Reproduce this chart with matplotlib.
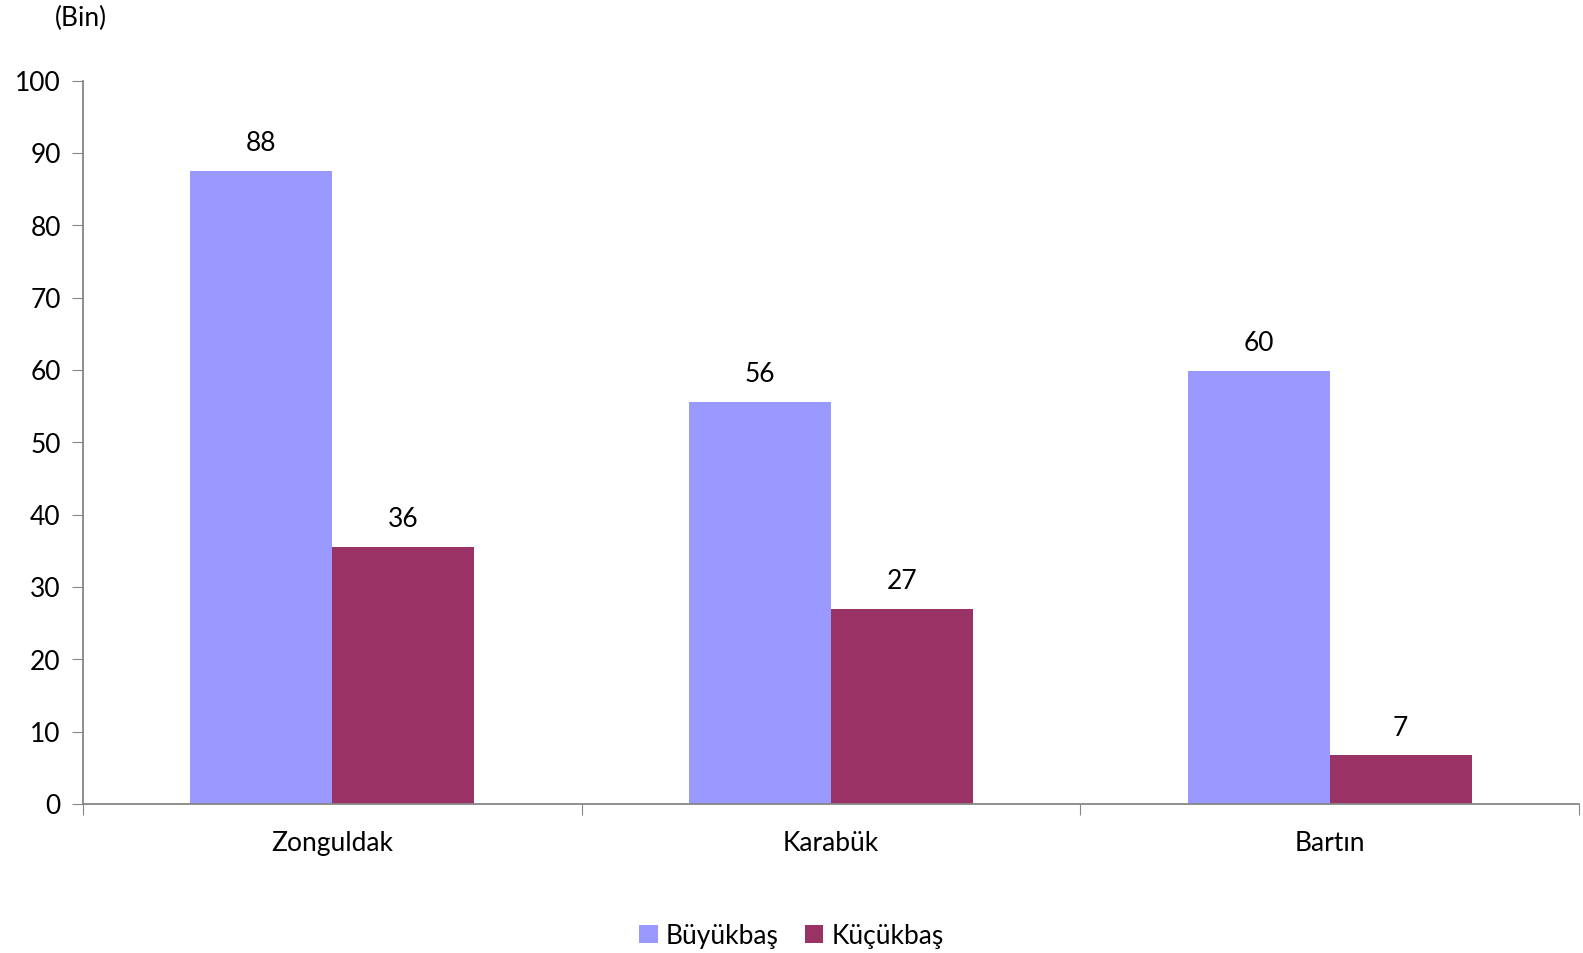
import matplotlib
matplotlib.use("Agg")
import matplotlib.pyplot as plt
import numpy as np

categories = ["Zonguldak", "Karabük", "Bartın"]
buyukbas = [87.5, 55.6, 59.9]
kucukbas = [35.5, 27.0, 6.7]
buyukbas_labels = ["88", "56", "60"]
kucukbas_labels = ["36", "27", "7"]
series_names = ["Büyükbaş", "Küçükbaş"]
yticks = [0, 10, 20, 30, 40, 50, 60, 70, 80, 90, 100]

plt.rcParams['font.family'] = ['Lato', 'DejaVu Sans']

W, H = 1583, 953
fig = plt.figure(figsize=(W/100, H/100 + 0.004), dpi=100)
L, R, T, B = 83, 1579, 81, 804
ax = fig.add_axes([L/W, 1-B/H, (R-L)/W, (B-T)/H])

x = np.arange(len(categories))
w = 0.285
axis_col = "#868686"
fs = 19
b1 = ax.bar(x - w/2, buyukbas, w, color="#9999FF", label=series_names[0])
b2 = ax.bar(x + w/2, kucukbas, w, color="#993366", label=series_names[1])

for bars, labs in ((b1, buyukbas_labels), (b2, kucukbas_labels)):
    for r, t in zip(bars, labs):
        ax.annotate(t, (r.get_x() + r.get_width()/2, r.get_height()),
                    xytext=(0, 11), textcoords="offset points",
                    ha="center", va="bottom", fontsize=fs, color="black")

ax.set_xlim(-0.5, len(categories) - 0.5)
ax.set_ylim(0, 100)
ax.set_yticks(yticks)
ax.set_yticklabels([str(v) for v in yticks], fontsize=fs)
ax.set_xticks(np.arange(len(categories) + 1) - 0.5, minor=False)
ax.set_xticklabels([])
ax.set_xticks(x, minor=True)
ax.set_xticklabels(categories, minor=True, fontsize=fs)
ax.tick_params(axis="x", which="minor", length=0, pad=19)
ax.tick_params(axis="x", which="major", length=8, color=axis_col, direction="out")
ax.tick_params(axis="y", length=8, color=axis_col, direction="out", pad=8)

for s in ["top", "right"]:
    ax.spines[s].set_visible(False)
for s in ["left", "bottom"]:
    ax.spines[s].set_color(axis_col)
    ax.spines[s].set_linewidth(1.3)

fig.text(81/W, 1-18/H, "(Bin)", fontsize=fs, ha="center", va="center")

fig.legend(handles=[b1, b2], labels=series_names, loc="center",
           bbox_to_anchor=(0.5, 1-936/H), ncol=2, frameon=False,
           fontsize=fs, handlelength=0.7, handleheight=0.7, columnspacing=1.0,
           handletextpad=0.3)

fig.savefig("out.png", dpi=100)
